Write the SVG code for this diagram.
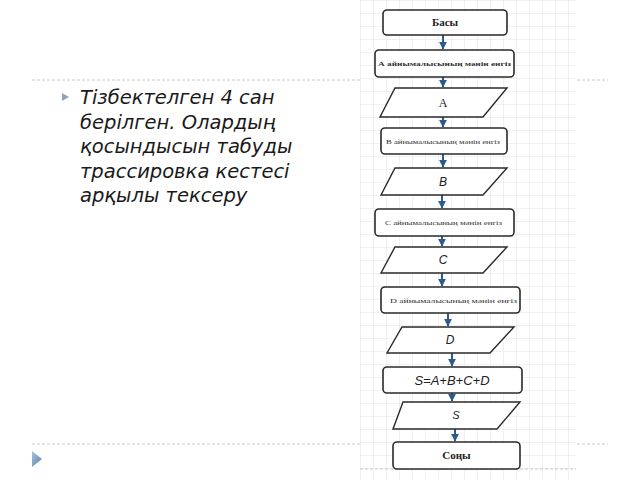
<svg xmlns="http://www.w3.org/2000/svg" width="640" height="480" viewBox="0 0 640 480">
<style>
.sep{stroke:#c8c8c8;stroke-width:1;stroke-dasharray:3 2;fill:none}
.box{fill:#fff;stroke:#2a2a2a;stroke-width:1.6}
.io{fill:#fff;stroke:#2a2a2a;stroke-width:1.4}
.conn line{stroke:#2e5b8a;stroke-width:2}
.ser{font-family:"Liberation Serif",serif;fill:#222}
.san{font-family:"Liberation Sans",sans-serif;font-style:italic;fill:#222}
.tiny{font-family:"Liberation Serif",serif;font-size:6px;fill:#333}
.main{font-family:"DejaVu Sans",sans-serif;font-style:italic;font-size:19.5px;fill:#1a1a1a}
</style>
<defs>
<pattern id="grid" x="360" y="0" width="13" height="13" patternUnits="userSpaceOnUse">
<path d="M0 0H13M0 0V13" stroke="#e4e4e4" stroke-width="1" fill="none"/>
</pattern>
<marker id="ah" viewBox="0 0 10 10" refX="9" refY="5" markerWidth="4" markerHeight="4" orient="auto">
<path d="M0 0L10 5L0 10z" fill="#2e5b8a"/>
</marker>
<linearGradient id="tg" x1="0" y1="0" x2="1" y2="1">
<stop offset="0" stop-color="#a9c4e0"/><stop offset="1" stop-color="#5b7fa8"/>
</linearGradient>
</defs>
<rect width="640" height="480" fill="#fff"/>
<line class="sep" x1="32" y1="80" x2="360" y2="80"/>
<line class="sep" x1="577" y1="80" x2="608" y2="80"/>
<line class="sep" x1="32" y1="444" x2="360" y2="444"/>
<line class="sep" x1="577" y1="444" x2="608" y2="444"/>
<rect x="360" y="0" width="216" height="480" fill="url(#grid)"/>
<line class="sep" x1="360" y1="469" x2="576" y2="469"/>
<path d="M62 93L69 97L62 101z" fill="#8fa3b8"/>
<text class="main"><tspan x="80" y="104">Тізбектелген 4 сан</tspan><tspan x="80" y="129">берілген. Олардың</tspan><tspan x="80" y="153">қосындысын табуды</tspan><tspan x="80" y="178">трассировка кестесі</tspan><tspan x="80" y="202">арқылы тексеру</tspan></text>
<path d="M32 451L42 459L32 467z" fill="url(#tg)"/>
<g class="conn">
<line x1="443" y1="35" x2="443" y2="49" marker-end="url(#ah)"/>
<line x1="443" y1="77" x2="443" y2="87" marker-end="url(#ah)"/>
<line x1="443" y1="117" x2="443" y2="127" marker-end="url(#ah)"/>
<line x1="443" y1="154" x2="443" y2="167" marker-end="url(#ah)"/>
<line x1="442" y1="195" x2="442" y2="208" marker-end="url(#ah)"/>
<line x1="442" y1="236" x2="442" y2="246" marker-end="url(#ah)"/>
<line x1="442" y1="273" x2="442" y2="286" marker-end="url(#ah)"/>
<line x1="448" y1="313" x2="448" y2="326" marker-end="url(#ah)"/>
<line x1="452" y1="353" x2="452" y2="366" marker-end="url(#ah)"/>
<line x1="452" y1="393" x2="452" y2="401" marker-end="url(#ah)"/>
<line x1="455" y1="429" x2="455" y2="441" marker-end="url(#ah)"/>
</g>
<g id="start"><rect class="box" x="383" y="10" width="124" height="25" rx="4"/><text class="ser" x="445" y="26" font-size="11" font-weight="bold" text-anchor="middle">Басы</text></g>
<g id="inA"><rect class="box" x="375" y="50" width="139" height="27" rx="4"/><text class="tiny" x="378" y="66" textLength="133" lengthAdjust="spacingAndGlyphs" font-weight="bold">А айнымалысының мәнін енгіз</text></g>
<g id="A"><path class="io" d="M395 88H507L483 117H380Z"/><text class="ser" x="443" y="107" font-size="12" text-anchor="middle">A</text></g>
<g id="inB"><rect class="box" x="381" y="128" width="126" height="26" rx="4"/><text class="tiny" x="386" y="143.5" textLength="114" lengthAdjust="spacingAndGlyphs">B айнымалысының мәнін енгіз</text></g>
<g id="B"><path class="io" d="M395 168H507L483 195H381Z"/><text class="san" x="443" y="186" font-size="12" text-anchor="middle">B</text></g>
<g id="inC"><rect class="box" x="375" y="209" width="139" height="27" rx="4"/><text class="tiny" x="385" y="225" textLength="117" lengthAdjust="spacingAndGlyphs">C айнымалысының мәнін енгіз</text></g>
<g id="C"><path class="io" d="M395 247H507L483 273H381Z"/><text class="san" x="443" y="264" font-size="12" text-anchor="middle">C</text></g>
<g id="inD"><rect class="box" x="381" y="287" width="139" height="26" rx="4"/><text class="tiny" x="390" y="302.5" textLength="127" lengthAdjust="spacingAndGlyphs">D айнымалысының мәнін енгіз</text></g>
<g id="D"><path class="io" d="M402 327H514L490 353H387Z"/><text class="san" x="450" y="344" font-size="12" text-anchor="middle">D</text></g>
<g id="sum"><rect class="box" x="383" y="367" width="139" height="26" rx="4"/><text class="san" x="452" y="384.5" font-size="13" text-anchor="middle">S=A+B+C+D</text></g>
<g id="S"><path class="io" d="M403 402H520L497 429H393Z"/><text class="san" x="456" y="419" font-size="11" text-anchor="middle">S</text></g>
<g id="end"><rect class="box" x="393" y="442" width="127" height="27" rx="4"/><text class="ser" x="456.5" y="459" font-size="11" font-weight="bold" text-anchor="middle">Соңы</text></g>
</svg>
